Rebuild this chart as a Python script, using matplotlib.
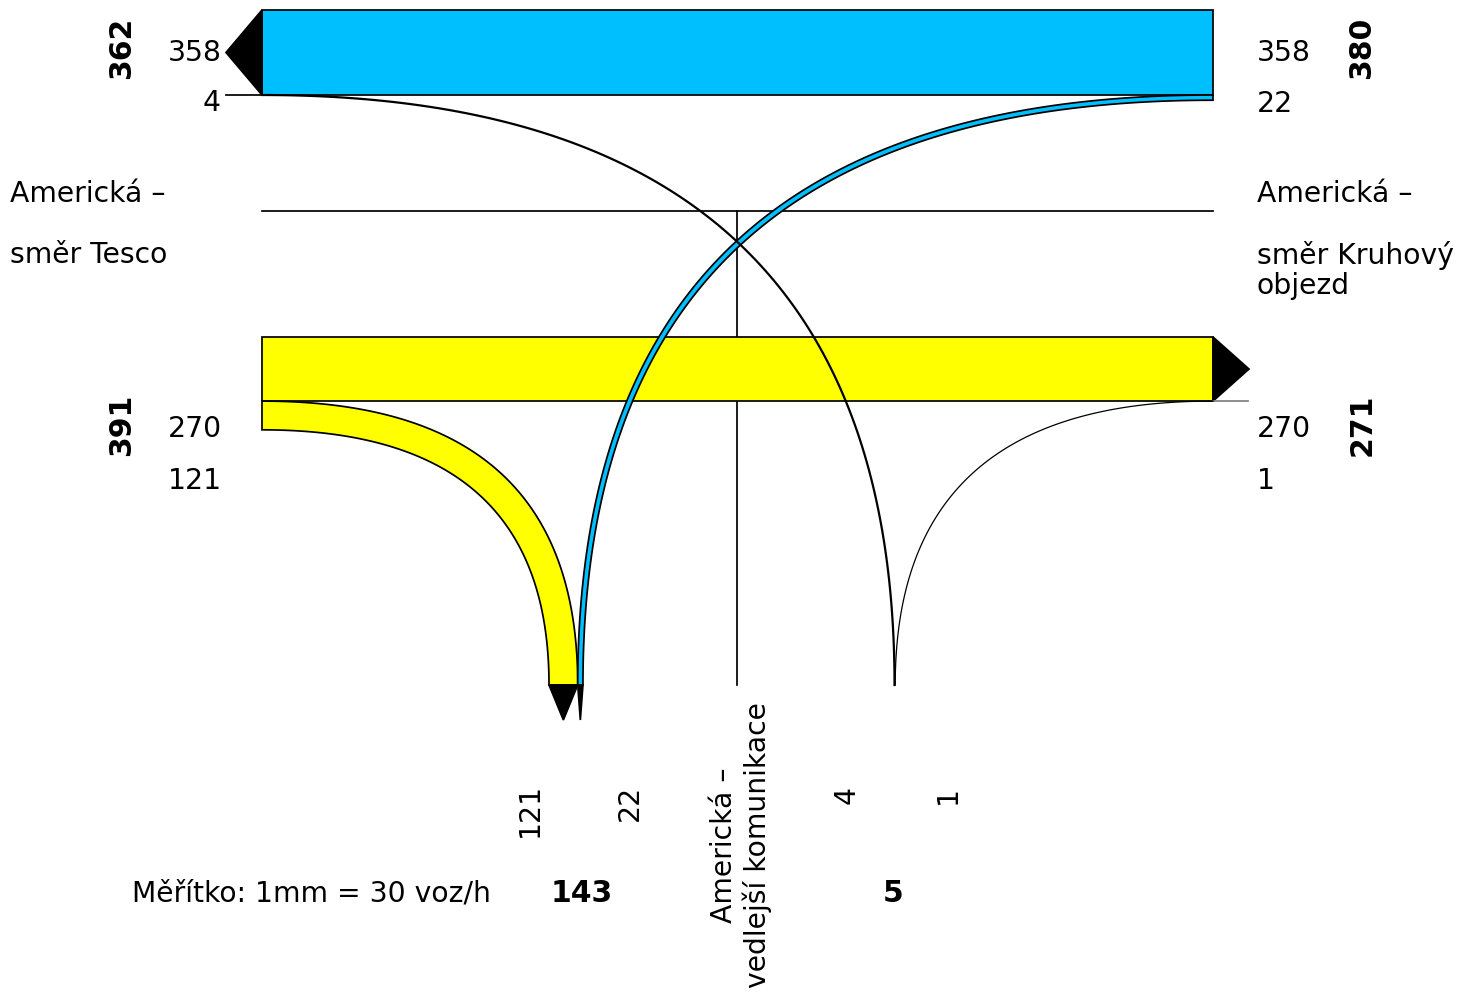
import numpy as np
import matplotlib
matplotlib.use("Agg")
import matplotlib.pyplot as plt
from matplotlib.patches import Polygon

# ---- traffic volumes (veh/h) ----
west_through = 358    # Americká, direction Tesco (blue)
minor_to_west = 4     # side road -> Tesco
east_to_minor = 22    # from Kruhový objezd -> side road (blue turn)
east_through = 270    # Americká, direction Kruhový objezd (yellow)
west_to_minor = 121   # from Tesco side -> side road (yellow turn)
minor_to_east = 1     # side road -> Kruhový objezd

left_name = ["Americká –", "směr Tesco"]
right_name = ["Americká –", "směr Kruhový", "objezd"]
minor_name = "Americká –\nvedlejší komunikace"
scale_text = "Měřítko: 1mm = 30 voz/h"

BLUE = "#00BFFF"
YELLOW = "#FFFF00"

# ---- layout ----
PX = 85.0 / 358.0          # pixels per vehicle
XL, XR = 262, 1213
Y_BLUE_TOP = 10
Y_YEL_TOP = 337
Y_MID = 211
X_MID = 737
Y_BOT = 685
X_YEL_BOT = 549
X_MINOR_IN = 895
K = 0.67
LW = 1.25

plt.rcParams['font.family'] = ['DejaVu Sans']
fig = plt.figure(figsize=(14.7, 9.93), dpi=100)
ax = fig.add_axes([0, 0, 1, 1])
ax.set_xlim(0, 1470)
ax.set_ylim(993, 0)
ax.axis('off')


def bez(p0, p3, n=120):
    x0, y0 = p0
    x3, y3 = p3
    p1 = (x0 + K * (x3 - x0), y0)
    p2 = (x3, y3 - K * (y3 - y0))
    t = np.linspace(0, 1, n)[:, None]
    P = np.array([p0, p1, p2, p3], float)
    pts = ((1 - t) ** 3) * P[0] + 3 * ((1 - t) ** 2) * t * P[1] + 3 * (1 - t) * t ** 2 * P[2] + t ** 3 * P[3]
    return pts


def band(a0, a3, b0, b3, color, z=2):
    e1 = bez(a0, a3)
    e2 = bez(b0, b3)[::-1]
    pts = np.vstack([e1, e2])
    ax.add_patch(Polygon(pts, closed=True, facecolor=color, edgecolor='black', lw=LW, zorder=z))


# centre lines
ax.plot([XL, XR], [Y_MID, Y_MID], color='black', lw=LW, zorder=1)
ax.plot([X_MID, X_MID], [Y_MID, Y_BOT], color='black', lw=LW, zorder=1)

# blue through band (westbound)
hb = west_through * PX
yb_bot = Y_BLUE_TOP + hb
ax.add_patch(Polygon([(XL, Y_BLUE_TOP), (XR, Y_BLUE_TOP), (XR, yb_bot), (XL, yb_bot)],
                     closed=True, facecolor=BLUE, edgecolor='black', lw=LW, zorder=3))
ax.add_patch(Polygon([(XL, Y_BLUE_TOP), (XL, yb_bot), (XL - 36, (Y_BLUE_TOP + yb_bot) / 2)],
                     closed=True, facecolor='black', edgecolor='black', lw=LW, zorder=3))
ax.plot([XL - 36, XL], [yb_bot, yb_bot], color='black', lw=LW, zorder=3)

# yellow through band (eastbound)
hy = east_through * PX
yy_bot = Y_YEL_TOP + hy
ax.add_patch(Polygon([(XL, Y_YEL_TOP), (XR, Y_YEL_TOP), (XR, yy_bot), (XL, yy_bot)],
                     closed=True, facecolor=YELLOW, edgecolor='black', lw=LW, zorder=2))
ax.add_patch(Polygon([(XR, Y_YEL_TOP), (XR, yy_bot), (XR + 36, (Y_YEL_TOP + yy_bot) / 2)],
                     closed=True, facecolor='black', edgecolor='black', lw=LW, zorder=3))
ax.plot([XR, XR + 35], [yy_bot, yy_bot], color='#808080', lw=LW, zorder=3)

# yellow right-turn band to side road
wy = west_to_minor * PX
band((XL, yy_bot), (X_YEL_BOT + wy, Y_BOT), (XL, yy_bot + wy), (X_YEL_BOT, Y_BOT), YELLOW, z=2)
ax.add_patch(Polygon([(X_YEL_BOT, Y_BOT), (X_YEL_BOT + wy, Y_BOT), (X_YEL_BOT + wy / 2, Y_BOT + 35)],
                     closed=True, facecolor='black', edgecolor='black', lw=LW, zorder=3))

# blue left-turn band to side road
wbt = east_to_minor * PX
xb0 = X_YEL_BOT + wy
band((XR, yb_bot), (xb0, Y_BOT), (XR, yb_bot + wbt), (xb0 + wbt, Y_BOT), BLUE, z=4)
ax.add_patch(Polygon([(xb0, Y_BOT), (xb0 + wbt, Y_BOT), (xb0 + wbt / 2, Y_BOT + 35)],
                     closed=True, facecolor='black', edgecolor='black', lw=LW, zorder=4))

# side road -> west (4) and side road -> east (1)
c4 = bez((XL, yb_bot), (X_MINOR_IN - minor_to_west * PX / 2, Y_BOT))
ax.plot(c4[:, 0], c4[:, 1], color='black', lw=1.6, zorder=4)
c1 = bez((XR, yy_bot), (X_MINOR_IN + minor_to_east * PX, Y_BOT))
ax.plot(c1[:, 0], c1[:, 1], color='black', lw=0.9, zorder=4)

FS = 20.3
FSB = 21.5
# left labels
ax.text(222, 53, str(west_through), fontsize=FS, ha='right', va='center')
ax.text(221, 103, str(minor_to_west), fontsize=FS, ha='right', va='center')
ax.text(122, 48, str(west_through + minor_to_west), fontsize=FSB, fontweight='bold',
        rotation=90, ha='center', va='center')
ax.text(222, 429, str(east_through), fontsize=FS, ha='right', va='center')
ax.text(222, 481, str(west_to_minor), fontsize=FS, ha='right', va='center')
ax.text(122, 425, str(east_through + west_to_minor), fontsize=FSB, fontweight='bold',
        rotation=90, ha='center', va='center')

# right labels
ax.text(1257, 53, str(west_through), fontsize=FS, ha='left', va='center')
ax.text(1257, 104, str(east_to_minor), fontsize=FS, ha='left', va='center')
ax.text(1362, 48, str(west_through + east_to_minor), fontsize=FSB, fontweight='bold',
        rotation=90, ha='center', va='center')
ax.text(1257, 429, str(east_through), fontsize=FS, ha='left', va='center')
ax.text(1257, 481, str(minor_to_east), fontsize=FS, ha='left', va='center')
ax.text(1362, 425, str(east_through + minor_to_east), fontsize=FSB, fontweight='bold',
        rotation=90, ha='center', va='center')

# road names
ax.text(10, 194, left_name[0], fontsize=FS, ha='left', va='center')
ax.text(10, 255, left_name[1], fontsize=FS, ha='left', va='center')
ax.text(1257, 194, right_name[0], fontsize=FS, ha='left', va='center')
ax.text(1257, 255, right_name[1], fontsize=FS, ha='left', va='center')
ax.text(1257, 286, right_name[2], fontsize=FS, ha='left', va='center')

# bottom labels
ax.text(530, 810, str(west_to_minor), fontsize=FS, rotation=90, ha='center', va='center')
ax.text(630, 803, str(east_to_minor), fontsize=FS, rotation=90, ha='center', va='center')
ax.text(847, 795, str(minor_to_west), fontsize=FS, rotation=90, ha='center', va='center')
ax.text(948, 795, str(minor_to_east), fontsize=FS, rotation=90, ha='center', va='center')
ax.text(741, 988, minor_name, fontsize=FS, rotation=90, ha='center', va='bottom',
        linespacing=1.15)
ax.text(132, 893, scale_text, fontsize=FS, ha='left', va='center')
ax.text(582, 893, str(west_to_minor + east_to_minor), fontsize=FSB, fontweight='bold',
        ha='center', va='center')
ax.text(893, 893, str(minor_to_west + minor_to_east), fontsize=FSB, fontweight='bold',
        ha='center', va='center')

fig.savefig("out.png", dpi=100)
